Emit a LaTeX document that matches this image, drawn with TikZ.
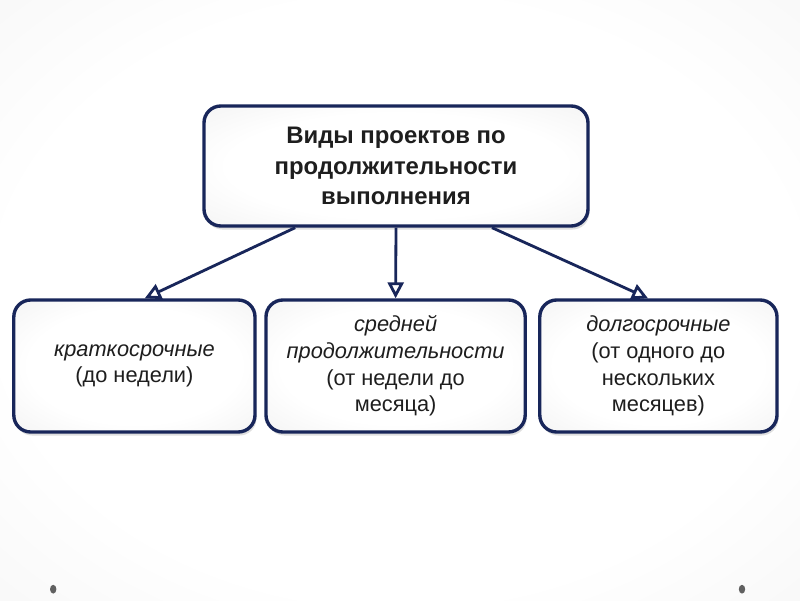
\documentclass[tikz,border=0pt]{standalone}
\usepackage{fontspec}
\setmainfont{Liberation Sans}
\usetikzlibrary{arrows.meta, calc, shadows}

\definecolor{navy}{RGB}{24,38,90}
\definecolor{ink}{RGB}{30,30,30}

% soft grey edges, white middle
\pgfdeclareradialshading{boxglow}{\pgfpoint{0bp}{0bp}}{%
  color(0bp)=(white); color(22bp)=(white); color(45bp)=(gray!14); color(72bp)=(gray!26)}
\pgfdeclareradialshading{slideglow}{\pgfpoint{0bp}{0bp}}{%
  color(0bp)=(white); color(25bp)=(white); color(50bp)=(gray!12); color(72bp)=(gray!30)}

\begin{document}
\begin{tikzpicture}[
  every node/.style = {
    rounded corners=12pt,
    draw=navy,
    align=center,
    text=ink,
    shading=boxglow,
    line width=2.4pt,
    drop shadow={shadow xshift=1pt, shadow yshift=-2.5pt, opacity=0.25, fill=gray}
  },
  topbox/.style = {minimum width=9.6cm, minimum height=3cm,
    font=\fontsize{17}{21.5}\selectfont\bfseries},
  subbox/.style = {minimum height=3.3cm,
    font=\fontsize{15.5}{19}\selectfont},
  arrow/.style = {-{Triangle[open, length=4mm, width=4mm, fill=white]}, draw=navy, line width=2pt}
]

% background
\shade[shading=slideglow] (0,0) rectangle (20,15);
\useasboundingbox (0,0) rectangle (20,15);
\fill[gray!75!black] (1.33,0.27) ellipse (0.08 and 0.11);
\fill[gray!75!black] (18.55,0.27) ellipse (0.08 and 0.11);

% top level
\node[topbox] (types) at (9.9,10.85) {Виды проектов по\\продолжительности\\выполнения};

% second level
\node[subbox, minimum width=6.03cm] (short) at (3.36,5.85) {\textit{краткосрочные}\\(до недели)};
\node[subbox, minimum width=6.48cm] (medium) at (9.89,5.85) {\textit{средней}\\\textit{продолжительности}\\(от недели до\\месяца)};
\node[subbox, minimum width=5.93cm] (long) at (16.46,5.85) {\textit{долгосрочные}\\(от одного до\\нескольких\\месяцев)};

% arrows
\draw[arrow] ($(types.south)+(-2.52,0)$) -- ($(short.north)+(0.26,0)$);
\draw[arrow] (types.south) -- (medium.north);
\draw[arrow] ($(types.south)+(2.4,0)$) -- ($(long.north)+(-0.26,0)$);

\end{tikzpicture}
\end{document}
